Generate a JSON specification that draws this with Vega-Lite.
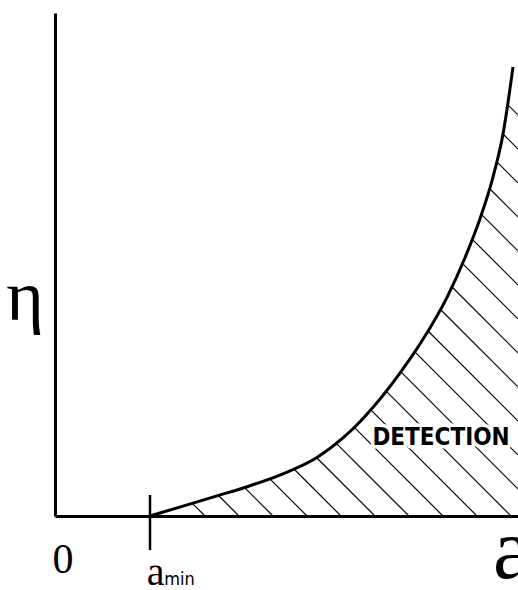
{
  "$schema": "https://vega.github.io/schema/vega-lite/v6.json",
  "width": 463,
  "height": 503,
  "autosize": "none",
  "padding": {"left": 55, "top": 13, "right": 0, "bottom": 74},
  "background": "white",
  "config": {
    "view": {"stroke": null},
    "axis": {"labels": false, "ticks": false, "grid": false, "domainWidth": 3, "domainColor": "#000000"}
  },
  "datasets": {
    "curve": [
      {"a": 2.052, "eta": 0},
      {"a": 2.765, "eta": 0.197},
      {"a": 3.499, "eta": 0.400},
      {"a": 4.212, "eta": 0.602},
      {"a": 4.924, "eta": 0.839},
      {"a": 5.659, "eta": 1.163},
      {"a": 6.220, "eta": 1.551},
      {"a": 6.587, "eta": 1.873},
      {"a": 6.803, "eta": 2.091},
      {"a": 7.387, "eta": 2.763},
      {"a": 7.948, "eta": 3.513},
      {"a": 8.467, "eta": 4.348},
      {"a": 8.855, "eta": 5.135},
      {"a": 9.179, "eta": 5.911},
      {"a": 9.460, "eta": 6.738},
      {"a": 9.676, "eta": 7.592},
      {"a": 9.892, "eta": 8.926}
    ],
    "hatch": [
      {"a": 2.965, "eta": 0.252, "a_end": 3.240, "eta_end": 0},
      {"a": 3.531, "eta": 0.408, "a_end": 3.974, "eta_end": 0},
      {"a": 4.091, "eta": 0.569, "a_end": 4.708, "eta_end": 0},
      {"a": 4.635, "eta": 0.744, "a_end": 5.443, "eta_end": 0},
      {"a": 5.156, "eta": 0.940, "a_end": 6.177, "eta_end": 0},
      {"a": 5.652, "eta": 1.159, "a_end": 6.911, "eta_end": 0},
      {"a": 6.071, "eta": 1.449, "a_end": 7.646, "eta_end": 0},
      {"a": 6.464, "eta": 1.763, "a_end": 8.380, "eta_end": 0},
      {"a": 6.821, "eta": 2.111, "a_end": 9.114, "eta_end": 0},
      {"a": 7.147, "eta": 2.487, "a_end": 9.849, "eta_end": 0},
      {"a": 7.467, "eta": 2.869, "a_end": 10.583, "eta_end": 0},
      {"a": 7.767, "eta": 3.268, "a_end": 11.317, "eta_end": 0},
      {"a": 8.052, "eta": 3.682, "a_end": 12.052, "eta_end": 0},
      {"a": 8.320, "eta": 4.111, "a_end": 12.786, "eta_end": 0},
      {"a": 8.570, "eta": 4.557, "a_end": 13.520, "eta_end": 0},
      {"a": 8.799, "eta": 5.022, "a_end": 14.255, "eta_end": 0},
      {"a": 9.009, "eta": 5.505, "a_end": 14.989, "eta_end": 0},
      {"a": 9.210, "eta": 5.996, "a_end": 15.724, "eta_end": 0},
      {"a": 9.384, "eta": 6.511, "a_end": 16.458, "eta_end": 0},
      {"a": 9.538, "eta": 7.046, "a_end": 17.192, "eta_end": 0},
      {"a": 9.676, "eta": 7.594, "a_end": 17.927, "eta_end": 0},
      {"a": 9.771, "eta": 8.183, "a_end": 18.661, "eta_end": 0}
    ],
    "amin_tick": [
      {"a": 2.052, "eta": 0.417, "eta_end": -0.676}
    ],
    "detection": [
      {"label": "DETECTION", "a": 8.337, "eta": 1.412}
    ]
  },
  "layer": [
    {
      "data": {"name": "hatch"},
      "mark": {"type": "rule", "stroke": "#000000", "strokeWidth": 1.2, "clip": true},
      "encoding": {
        "x": {"field": "a", "type": "quantitative", "scale": {"domain": [0, 10], "nice": false, "zero": false}, "title": null},
        "y": {"field": "eta", "type": "quantitative", "scale": {"domain": [0, 10], "nice": false, "zero": false}, "title": null},
        "x2": {"field": "a_end"},
        "y2": {"field": "eta_end"}
      }
    },
    {
      "data": {"name": "detection"},
      "mark": {"type": "text", "font": "DejaVu Sans Condensed, DejaVu Sans, sans-serif", "fontWeight": "bold", "fontSize": 24, "align": "center", "baseline": "alphabetic", "fill": "white", "stroke": "white", "strokeWidth": 7, "strokeJoin": "round"},
      "encoding": {
        "x": {"field": "a", "type": "quantitative", "title": null},
        "y": {"field": "eta", "type": "quantitative", "title": null},
        "text": {"field": "label"}
      }
    },
    {
      "data": {"name": "detection"},
      "mark": {"type": "text", "font": "DejaVu Sans Condensed, DejaVu Sans, sans-serif", "fontWeight": "bold", "fontSize": 24, "align": "center", "baseline": "alphabetic", "fill": "#000000"},
      "encoding": {
        "x": {"field": "a", "type": "quantitative", "title": null},
        "y": {"field": "eta", "type": "quantitative", "title": null},
        "text": {"field": "label"}
      }
    },
    {
      "data": {"name": "curve"},
      "mark": {"type": "line", "stroke": "#000000", "strokeWidth": 3, "interpolate": "monotone"},
      "encoding": {
        "x": {"field": "a", "type": "quantitative", "title": null},
        "y": {"field": "eta", "type": "quantitative", "title": null}
      }
    },
    {
      "data": {"name": "amin_tick"},
      "mark": {"type": "rule", "stroke": "#000000", "strokeWidth": 2.5},
      "encoding": {
        "x": {"field": "a", "type": "quantitative", "title": null},
        "y": {"field": "eta", "type": "quantitative", "title": null},
        "y2": {"field": "eta_end"}
      }
    },
    {
      "data": {"values": [{"label": "0", "a": 0.173, "eta": -1.133}]},
      "mark": {"type": "text", "font": "Liberation Serif", "fontSize": 42, "align": "center", "baseline": "alphabetic", "fill": "#000000"},
      "encoding": {
        "x": {"field": "a", "type": "quantitative", "title": null},
        "y": {"field": "eta", "type": "quantitative", "title": null},
        "text": {"field": "label"}
      }
    },
    {
      "data": {"values": [{"label": "a", "a": 9.46, "eta": -1.233}]},
      "mark": {"type": "text", "font": "Liberation Serif", "fontSize": 86, "align": "left", "baseline": "alphabetic", "fill": "#000000"},
      "encoding": {
        "x": {"field": "a", "type": "quantitative", "title": null},
        "y": {"field": "eta", "type": "quantitative", "title": null},
        "text": {"field": "label"}
      }
    },
    {
      "data": {"values": [{"label": "a", "a": 1.98, "eta": -1.38}]},
      "mark": {"type": "text", "font": "Liberation Serif", "fontSize": 40, "align": "left", "baseline": "alphabetic", "fill": "#000000"},
      "encoding": {
        "x": {"field": "a", "type": "quantitative", "title": null},
        "y": {"field": "eta", "type": "quantitative", "title": null},
        "text": {"field": "label"}
      }
    },
    {
      "data": {"values": [{"label": "min", "a": 2.36, "eta": -1.38}]},
      "mark": {"type": "text", "font": "DejaVu Sans Condensed, Liberation Sans, sans-serif", "fontSize": 18, "align": "left", "baseline": "alphabetic", "fill": "#000000"},
      "encoding": {
        "x": {"field": "a", "type": "quantitative", "title": null},
        "y": {"field": "eta", "type": "quantitative", "title": null},
        "text": {"field": "label"}
      }
    },
    {
      "data": {"values": [{"label": "η", "a": -0.648, "eta": 3.897}]},
      "mark": {"type": "text", "font": "Liberation Serif", "fontSize": 72, "align": "center", "baseline": "alphabetic", "fill": "#000000"},
      "encoding": {
        "x": {"field": "a", "type": "quantitative", "title": null},
        "y": {"field": "eta", "type": "quantitative", "title": null},
        "text": {"field": "label"}
      }
    }
  ]
}
